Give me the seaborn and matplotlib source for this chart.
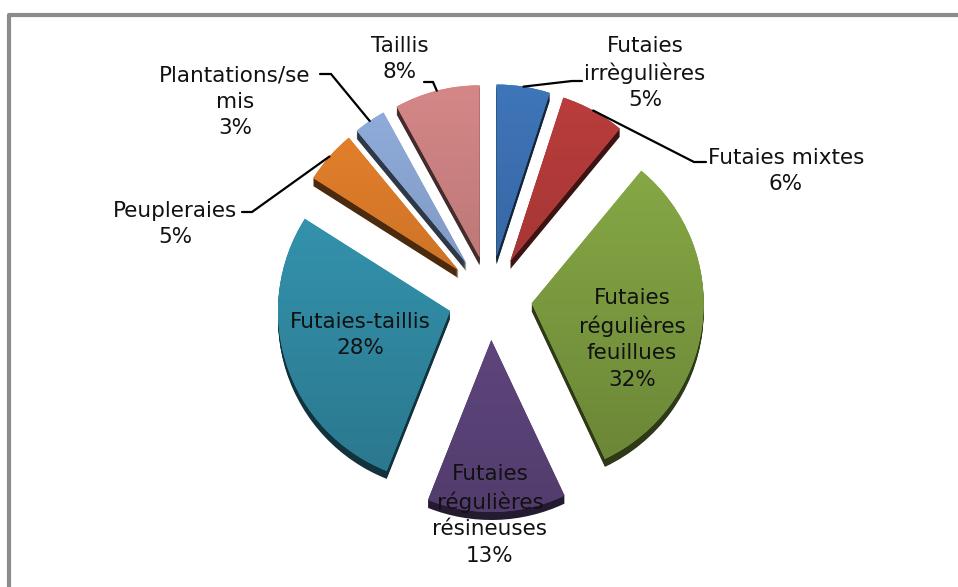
import numpy as np
import matplotlib
matplotlib.use("Agg")
import matplotlib.pyplot as plt
import matplotlib.colors as mcolors
import seaborn as sns

# ========== DATA ==========
categories = ["Futaies\nirrègulières", "Futaies mixtes", "Futaies\nrégulières\nfeuillues",
              "Futaies\nrégulières\nrésineuses", "Futaies-taillis", "Peupleraies",
              "Plantations/se\nmis", "Taillis"]
shares = [5, 6, 32, 13, 28, 5, 3, 8]
colors = ["#3d72b5", "#b63c3b", "#8aad47", "#6e5192", "#379cb8", "#e4802b", "#8eaad8", "#d08484"]

# label centres in pixels (y measured from the top of the image)
label_pos = [(645, 73), (786, 171), (632, 339), (490, 515), (360, 335), (175, 224), (235, 102), (400, 59)]
# leader line: elbow point and end of the horizontal stub (pixels), None = label inside slice
leaders = [((572, 81), (582, 81)), ((694, 162), (706, 162)), None, None, None,
           ((252, 212), (242, 212)), ((331, 74), (320, 74)), ((433, 82), (424, 82))]

W, H = 958, 587
sns.set_theme(style="white")
plt.rcParams["font.family"] = ["DejaVu Sans"]

fig = plt.figure(figsize=(W / 100, H / 100), dpi=100)
ax = fig.add_axes([0, 0, 1, 1])

center = (490, H - 298)
radius = 172
explode = [42] * len(shares)   # pie() takes the offset in data units
depth = 8

# dark underside to fake the 3D depth
shade = [tuple(np.array(mcolors.to_rgb(c)) * 0.33) for c in colors]
for k in range(depth, 0, -1):
    ax.pie(shares, explode=explode, colors=shade, startangle=90, counterclock=False,
           center=(center[0], center[1] - k), radius=radius, frame=True,
           wedgeprops=dict(linewidth=0))

wedges, _ = ax.pie(shares, explode=explode, colors=colors, startangle=90, counterclock=False,
                   center=center, radius=radius, frame=True,
                   wedgeprops=dict(linewidth=0))

# soft top-to-bottom gradient on each slice
top, bottom = center[1] + radius + 50, center[1] - radius - 50
ramp = np.linspace(1.03, 0.74, 200)[:, None]
for w, c in zip(wedges, colors):
    rgb = np.clip(np.array(mcolors.to_rgb(c))[None, None, :] * ramp[:, :, None], 0, 1)
    img = ax.imshow(rgb, extent=(center[0] - radius - 60, center[0] + radius + 60, bottom, top),
                    origin="upper", aspect="auto", zorder=w.get_zorder() + 0.1,
                    interpolation="bilinear")
    img.set_clip_path(w)

ax.set_xlim(0, W)
ax.set_ylim(0, H)
ax.set_aspect("equal")
ax.axis("off")

# labels and leader lines
for i, (name, v) in enumerate(zip(categories, shares)):
    lx, ly = label_pos[i]
    ax.text(lx, H - ly, f"{name}\n{v}%", ha="center", va="center", fontsize=15.5,
            linespacing=1.4, color="#111111", zorder=5)
    if leaders[i] is not None:
        w = wedges[i]
        mid = np.deg2rad((w.theta1 + w.theta2) / 2)
        px = w.center[0] + w.r * np.cos(mid)
        py = w.center[1] + w.r * np.sin(mid)
        (ex, ey), (sx, sy) = leaders[i]
        ax.plot([px, ex, sx], [py, H - ey, H - sy], color="black", lw=1.6, zorder=4,
                solid_joinstyle="miter")

# chart area border (only top and left visible)
ax.plot([9, 9, W + 5], [-5, H - 15, H - 15], color="#8c8c8c", lw=3, clip_on=False)

fig.savefig("out.png", dpi=100)
